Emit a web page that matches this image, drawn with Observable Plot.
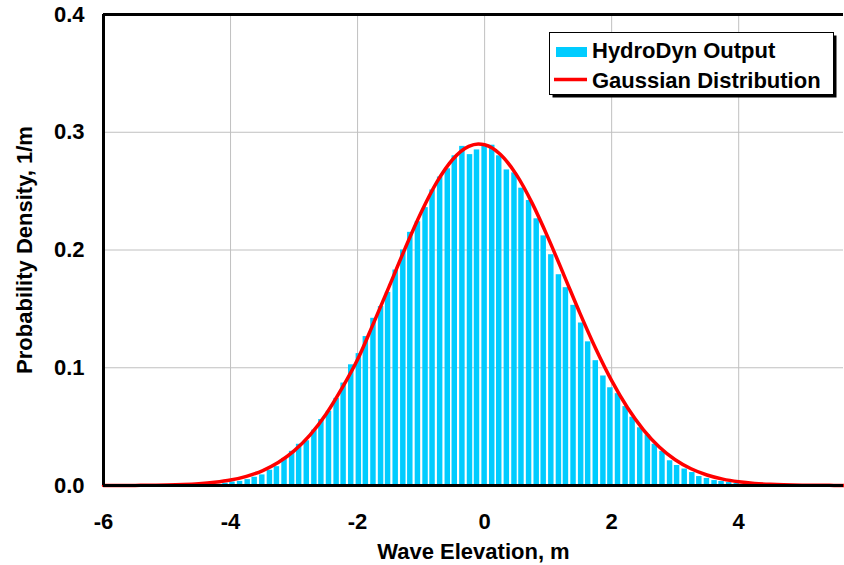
<!DOCTYPE html>
<html>
<head>
<meta charset="utf-8">
<script src="https://cdn.jsdelivr.net/npm/d3@7"></script>
<script src="https://cdn.jsdelivr.net/npm/@observablehq/plot@0.6"></script>
<style>
  body { margin: 0; background: #fff; }
  #wrap { position: relative; width: 844px; height: 565px; font-family: "Liberation Sans", Arial, sans-serif; }
  #legend { position: absolute; left: 549px; top: 32px; }
</style>
</head>
<body>
<div id="wrap"></div>
<script>
// Bin centres of the HydroDyn histogram (m)
const binCenters = [
  -4.20, -4.08, -3.97, -3.85, -3.73, -3.62, -3.50, -3.38, -3.27, -3.15, -3.03, -2.92,
  -2.80, -2.68, -2.57, -2.45, -2.33, -2.22, -2.10, -1.98, -1.87, -1.75, -1.63, -1.52,
  -1.40, -1.28, -1.17, -1.05, -0.93, -0.82, -0.70, -0.58, -0.47, -0.35, -0.23, -0.12,
   0.00,  0.12,  0.23,  0.35,  0.47,  0.58,  0.70,  0.82,  0.93,  1.05,  1.17,  1.28,
   1.40,  1.52,  1.63,  1.75,  1.87,  1.98,  2.10,  2.22,  2.33,  2.45,  2.57,  2.68,
   2.80,  2.92,  3.03,  3.15,  3.27,  3.38,  3.50,  3.62,  3.73,  3.85,  3.97,  4.08
];
// HydroDyn output probability density (1/m)
const hydroDyn = [
  0.001, 0.002, 0.003, 0.0035, 0.005, 0.007, 0.009, 0.013, 0.016, 0.023, 0.029, 0.035,
  0.038, 0.047, 0.056, 0.063, 0.074, 0.087, 0.1025, 0.112, 0.1265, 0.142, 0.152, 0.164,
  0.183, 0.200, 0.215, 0.224, 0.236, 0.251, 0.262, 0.269, 0.280, 0.288, 0.281, 0.285,
  0.289, 0.289, 0.280, 0.268, 0.2655, 0.2525, 0.242, 0.2265, 0.212, 0.196, 0.179, 0.168,
  0.153, 0.138, 0.122, 0.106, 0.093, 0.083, 0.078, 0.067, 0.058, 0.049, 0.043, 0.035,
  0.029, 0.021, 0.017, 0.014, 0.011, 0.0076, 0.006, 0.0042, 0.0034, 0.0025, 0.0017, 0.001
];
// Gaussian distribution curve
const curveX = [
  -6, -5.5, -5, -4.75, -4.5, -4.25, -4, -3.75, -3.5, -3.25, -3, -2.75, -2.5, -2.25,
  -2, -1.75, -1.5, -1.25, -1, -0.75, -0.5, -0.25, -0.1, 0, 0.25, 0.5, 0.75, 1, 1.25,
  1.5, 1.75, 2, 2.25, 2.5, 2.75, 3, 3.25, 3.5, 3.75, 4, 4.25, 4.5, 5, 5.5, 5.65
];
const gaussian = [
  0.0000, 0.0001, 0.0004, 0.0008, 0.0015, 0.0027, 0.0046, 0.0078, 0.0125, 0.0195, 0.0294, 0.0428, 0.0603, 0.0822,
  0.1070, 0.1377, 0.1694, 0.2016, 0.2318, 0.2578, 0.2771, 0.2880, 0.2900, 0.2894, 0.2811, 0.2640, 0.2396, 0.2103, 0.1785,
  0.1464, 0.1161, 0.0890, 0.0660, 0.0473, 0.0327, 0.0219, 0.0142, 0.0089, 0.0054, 0.0032, 0.0018, 0.0010, 0.0003, 0.0001, 0.0000
];
const xTicks = [-6, -4, -2, 0, 2, 4];
const yTicks = [0, 0.1, 0.2, 0.3, 0.4];
const seriesNames = ["HydroDyn Output", "Gaussian Distribution"];
const xTitle = "Wave Elevation, m";
const yTitle = "Probability Density, 1/m";

const bars = binCenters.map((x, i) => ({x, p: hydroDyn[i]}));
const curve = curveX.map((x, i) => ({x, p: gaussian[i]}));
const halfBar = 0.043;
const FONT = "'Liberation Sans', Arial, sans-serif";
const FS = 22;

const chart = Plot.plot({
  width: 844,
  height: 565,
  marginLeft: 103,
  marginRight: 1,
  marginTop: 14,
  marginBottom: 80,
  style: {fontFamily: FONT, fontSize: FS + "px", fontWeight: "bold", color: "#000", background: "#fff", overflow: "visible"},
  x: {domain: [-6, 5.65], label: null},
  y: {domain: [0, 0.4], label: null},
  marks: [
    Plot.gridX(xTicks.filter(d => d > -6), {stroke: "#c0c0c0", strokeOpacity: 1, strokeWidth: 1}),
    Plot.gridY(yTicks.filter(d => d > 0 && d < 0.4), {stroke: "#c0c0c0", strokeOpacity: 1, strokeWidth: 1}),
    Plot.rectY(bars, {x1: d => d.x - halfBar, x2: d => d.x + halfBar, y: "p", fill: "#00ccff"}),
    Plot.line(curve, {x: "x", y: "p", stroke: "#ff0000", strokeWidth: 3.5, curve: "monotone-x"}),
    Plot.ruleY([0], {stroke: "#000", strokeWidth: 3}),
    Plot.ruleY([0.4], {stroke: "#000", strokeWidth: 3}),
    Plot.ruleX([-6], {stroke: "#000", strokeWidth: 3}),
    Plot.axisX({ticks: xTicks, tickSize: 0, tickPadding: 28, tickFormat: d => String(d), fontSize: FS, fontWeight: "bold"}),
    Plot.axisY({ticks: yTicks, tickSize: 0, tickPadding: 19, tickFormat: d3.format(".1f"), fontSize: FS, fontWeight: "bold"}),
    Plot.text([xTitle], {frameAnchor: "bottom", dy: 66, text: d => d, fontSize: FS, fontWeight: "bold", lineAnchor: "middle", textAnchor: "middle"}),
    Plot.text([yTitle], {frameAnchor: "left", dx: -79, text: d => d, fontSize: FS, fontWeight: "bold", rotate: -90, lineAnchor: "middle", textAnchor: "middle"})
  ]
});
document.getElementById("wrap").appendChild(chart);

// Legend box
const ns = "http://www.w3.org/2000/svg";
const leg = d3.select("#wrap").append("svg")
  .attr("id", "legend")
  .attr("width", 292).attr("height", 70)
  .attr("xmlns", ns);
leg.append("rect").attr("x", 3.5).attr("y", 3.5).attr("width", 284).attr("height", 62).attr("fill", "#000");
leg.append("rect").attr("x", 0.5).attr("y", 0.5).attr("width", 284).attr("height", 62).attr("fill", "#fff").attr("stroke", "#000").attr("stroke-width", 1);
leg.append("rect").attr("x", 7).attr("y", 15).attr("width", 31).attr("height", 10).attr("fill", "#00ccff");
leg.append("line").attr("x1", 5).attr("x2", 38).attr("y1", 47.5).attr("y2", 47.5).attr("stroke", "#ff0000").attr("stroke-width", 3.5);
leg.selectAll("text.lab").data(seriesNames).join("text")
  .attr("class", "lab")
  .attr("x", 43)
  .attr("y", (d, i) => i === 0 ? 26 : 56)
  .attr("font-family", FONT)
  .attr("font-size", FS)
  .attr("font-weight", "bold")
  .text(d => d);
</script>
</body>
</html>
